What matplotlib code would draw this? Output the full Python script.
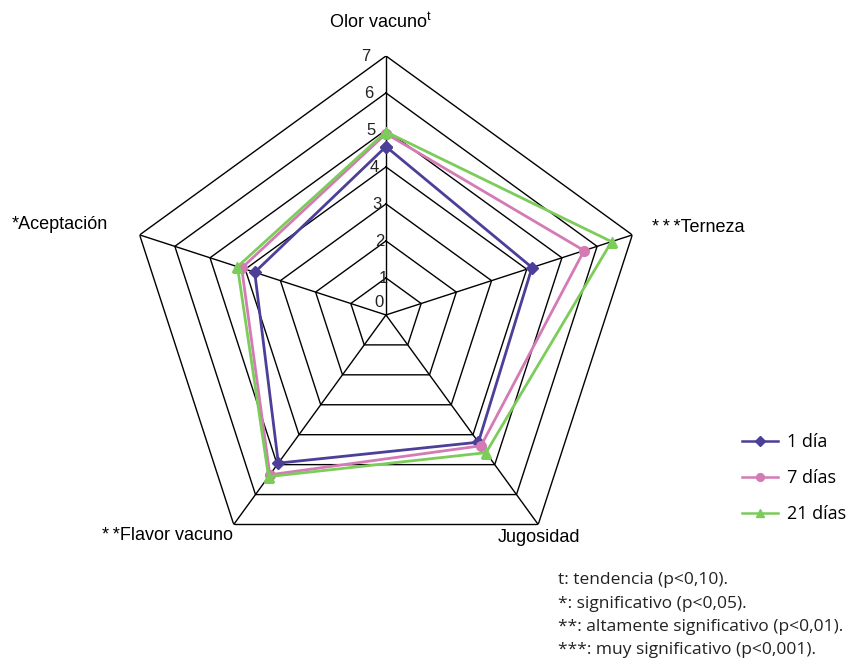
import numpy as np
import matplotlib
matplotlib.use('Agg')
import matplotlib.pyplot as plt

plt.rcParams['font.family'] = ['Liberation Sans', 'DejaVu Sans']
plt.rcParams['mathtext.default'] = 'regular'

# data
atributos = ['Olor vacuno$^{t}$', '*\u2009*\u2009*Terneza', 'Jugosidad',
             '*\u2009*Flavor vacuno', '*Aceptación']
dia_1 = [4.55, 4.15, 4.25, 4.95, 3.73]
dias_7 = [4.9, 5.63, 4.37, 5.34, 4.1]
dias_21 = [4.95, 6.41, 4.6, 5.4, 4.22]
series_labels = ['1 día', '7 días', '21 días']
niveles = [1, 2, 3, 4, 5, 6, 7]
notas = ['t: tendencia (p<0,10).',
         '*: significativo (p<0,05).',
         '**: altamente significativo (p<0,01).',
         '***: muy significativo (p<0,001).']

colores = ['#4b3f98', '#d47ab4', '#7ccc5a']
marcas = ['D', 'o', '^']

fig = plt.figure(figsize=(8.47, 6.6), dpi=100)
ax = fig.add_axes([0.1499, 0.1303, 0.6116, 0.785], projection='polar')
ax.set_theta_offset(np.pi / 2)
ax.set_theta_direction(-1)
ax.set_ylim(0, 7)
ax.grid(False)
ax.spines['polar'].set_visible(False)
ax.set_xticks([])
ax.set_yticks([])
ax.patch.set_alpha(0)

n = len(atributos)
ang = np.linspace(0, 2 * np.pi, n, endpoint=False)
ang_c = np.append(ang, ang[0])

# pentagon grid
for lv in niveles:
    ax.plot(ang_c, [lv] * (n + 1), color='black', lw=1.0, zorder=1)
for a in ang:
    ax.plot([a, a], [0, 7], color='black', lw=1.0, zorder=1)

# level labels
for lv in [0] + niveles:
    ax.text(np.radians(-4.5) if lv > 0 else np.radians(-30), lv if lv > 0 else 0.4,
            str(lv), ha='center', va='center', fontsize=12, color='#222222')

# series
for vals, col, mk, lab in zip([dia_1, dias_7, dias_21], colores, marcas, series_labels):
    v = np.append(vals, vals[0])
    ms = 7 if mk != 'D' else 6.5
    ax.plot(ang_c, v, color=col, lw=2.0, marker=mk, markersize=ms,
            markeredgecolor=col, label=lab, zorder=3)

# axis labels (figure pixels)
W, H = 847, 660
fig.text(380 / W, 1 - 22 / H, atributos[0], ha='center', va='center', fontsize=13)
fig.text(652 / W, 1 - 228 / H, atributos[1], ha='left', va='center', fontsize=13)
fig.text(539 / W, 1 - 537 / H, atributos[2], ha='center', va='center', fontsize=13)
fig.text(167 / W, 1 - 535 / H, atributos[3], ha='center', va='center', fontsize=13)
fig.text(12 / W, 1 - 225 / H, atributos[4], ha='left', va='center', fontsize=13)

handles, labels = ax.get_legend_handles_labels()
leg = fig.legend(handles, labels, loc='upper left', bbox_to_anchor=(726 / W, 1 - 417 / H),
                 frameon=False, handlelength=2.0, labelspacing=1.0,
                 handletextpad=0.5, markerscale=0.8,
                 prop={'family': ['Open Sans', 'DejaVu Sans'], 'size': 13})
for h in leg.get_lines():
    h.set_linewidth(1.8)

for i, t in enumerate(notas):
    fig.text(558 / W, 1 - (580 + 23.5 * i) / H, t, ha='left', va='center',
             fontsize=12.5, family=['Open Sans', 'DejaVu Sans'], color='#222222')

fig.savefig('out.png', dpi=100, facecolor='white')
